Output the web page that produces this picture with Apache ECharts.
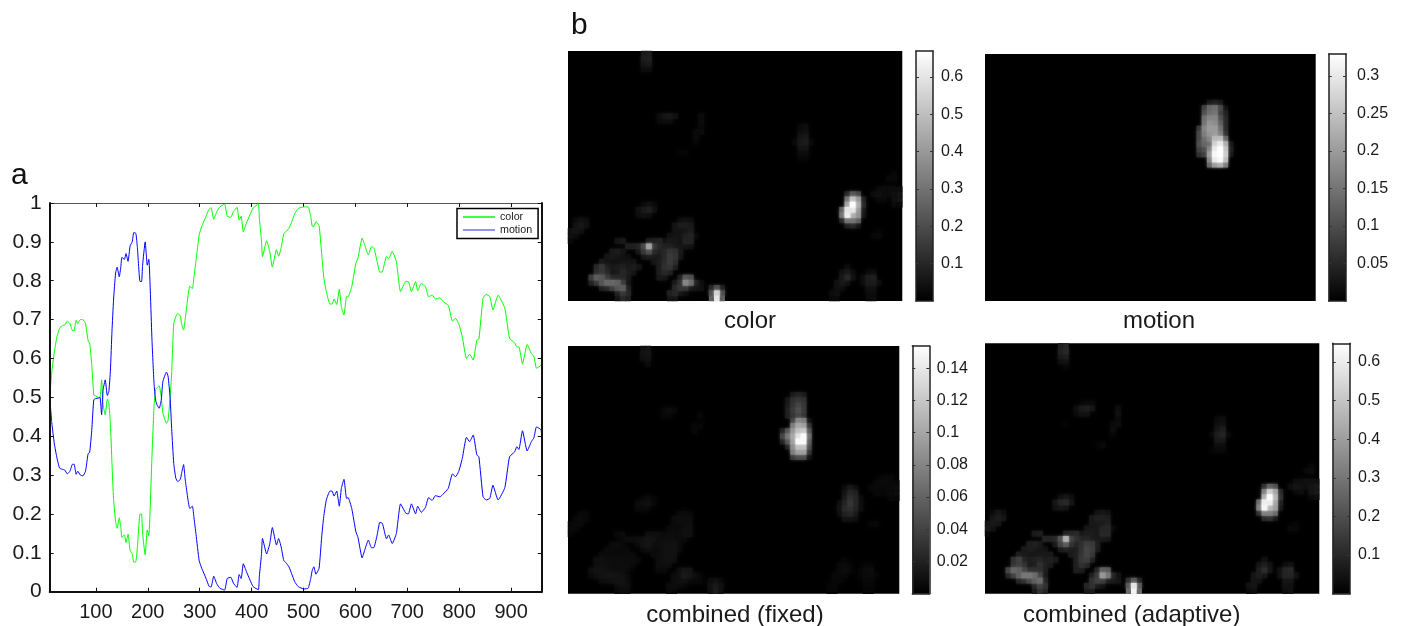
<!DOCTYPE html>
<html>
<head>
<meta charset="utf-8">
<style>html,body{margin:0;padding:0;background:#fff}#c{width:1402px;height:626px}</style>
<script src="https://cdn.jsdelivr.net/npm/echarts@6/dist/echarts.min.js"></script>
</head>
<body>
<div id="c"></div>
<script>
const xTicks = [100,200,300,400,500,600,700,800,900];

const colorTrace = [[11,.5],[15,.565],[20,.617],[25,.656],[30,.677],[35,.685],[40,.686],[45,.696],[50,.69],[55,.672],[58,.672],[62,.698],[65,.69],[70,.7],[75,.7],[80,.69],[85,.645],[88,.64],[92,.585],[96,.506],[100,.503],[105,.5],[108,.5],[111,.545],[114,.48],[118,.455],[122,.495],[125,.485],[128,.43],[131,.33],[134,.24],[138,.18],[141,.163],[145,.19],[148,.165],[150,.14],[155,.146],[158,.126],[162,.148],[166,.105],[170,.098],[173,.076],[177,.077],[180,.115],[185,.2],[188,.2],[190,.15],[195,.095],[199,.159],[202,.144],[208,.347],[212,.476],[215,.52],[218,.525],[222,.53],[226,.5],[229,.46],[236,.433],[239,.44],[243,.5],[246,.562],[250,.69],[254,.708],[258,.716],[263,.708],[265,.69],[269,.673],[272,.7],[281,.786],[286,.78],[289,.81],[293,.853],[299,.918],[304,.94],[312,.965],[318,.984],[322,.988],[327,.958],[333,.978],[339,.99],[348,.997],[353,.966],[360,.963],[365,.978],[372,.989],[376,.956],[380,.966],[384,.926],[390,.948],[397,.97],[403,.987],[413,.997],[415,.96],[419,.905],[421,.862],[429,.903],[435,.875],[440,.835],[448,.88],[452,.863],[457,.885],[462,.921],[466,.926],[472,.935],[477,.95],[483,.972],[490,.986],[501,.99],[509,.99],[514,.965],[517,.94],[520,.94],[524,.952],[530,.942],[535,.87],[539,.81],[544,.772],[551,.74],[555,.74],[559,.753],[564,.739],[569,.778],[573,.733],[578,.712],[583,.759],[586,.759],[593,.785],[601,.845],[605,.858],[613,.91],[618,.892],[625,.866],[631,.888],[636,.883],[642,.849],[647,.822],[652,.823],[660,.862],[664,.857],[671,.875],[679,.849],[687,.772],[697,.798],[702,.798],[708,.772],[716,.798],[720,.774],[727,.793],[735,.785],[741,.759],[748,.763],[754,.753],[763,.756],[769,.746],[779,.737],[787,.696],[793,.703],[799,.69],[806,.656],[814,.6],[820,.611],[827,.596],[834,.647],[838,.65],[846,.755],[852,.765],[859,.759],[865,.725],[875,.763],[888,.729],[897,.652],[907,.64],[911,.63],[915,.63],[922,.586],[931,.636],[939,.613],[944,.605],[949,.575],[958,.583],[959,.63]];

const motionTrace = [[11,.5],[15,.435],[20,.38],[25,.344],[30,.318],[35,.315],[40,.313],[45,.303],[50,.31],[55,.328],[58,.328],[62,.302],[65,.31],[70,.3],[75,.298],[80,.31],[85,.355],[88,.358],[92,.415],[96,.494],[100,.497],[105,.498],[108,.5],[111,.455],[114,.52],[118,.545],[122,.505],[125,.515],[128,.57],[131,.67],[134,.75],[138,.82],[141,.835],[145,.81],[148,.835],[150,.86],[155,.855],[158,.87],[162,.85],[166,.89],[170,.9],[173,.924],[177,.922],[180,.885],[185,.798],[188,.798],[190,.84],[195,.9],[199,.84],[202,.855],[208,.65],[212,.536],[215,.493],[218,.48],[222,.472],[226,.493],[229,.54],[236,.565],[239,.555],[243,.5],[246,.42],[250,.33],[254,.292],[258,.283],[263,.29],[265,.304],[269,.327],[272,.29],[281,.214],[286,.22],[289,.19],[293,.147],[299,.08],[304,.06],[312,.035],[318,.014],[322,.012],[327,.04],[333,.02],[339,.009],[348,.004],[353,.034],[360,.037],[365,.022],[372,.011],[376,.044],[380,.034],[384,.072],[390,.052],[397,.03],[403,.013],[413,.005],[415,.04],[419,.095],[421,.137],[429,.097],[435,.123],[440,.165],[448,.12],[452,.137],[457,.115],[462,.08],[466,.075],[472,.064],[477,.047],[483,.026],[490,.013],[501,.007],[509,.009],[514,.034],[517,.056],[520,.064],[524,.045],[530,.06],[535,.14],[539,.193],[544,.236],[551,.259],[555,.259],[559,.246],[564,.259],[569,.22],[573,.266],[578,.289],[583,.24],[586,.242],[593,.214],[601,.154],[605,.14],[613,.087],[618,.107],[625,.133],[631,.113],[636,.114],[642,.146],[647,.178],[652,.176],[660,.136],[664,.146],[671,.124],[679,.15],[687,.226],[697,.202],[702,.2],[708,.226],[716,.2],[720,.22],[727,.204],[735,.217],[741,.242],[748,.235],[754,.247],[763,.244],[769,.251],[779,.266],[787,.303],[793,.296],[799,.309],[806,.343],[814,.397],[820,.386],[827,.403],[834,.352],[838,.347],[846,.244],[852,.236],[859,.24],[865,.274],[875,.236],[888,.268],[897,.347],[907,.36],[911,.373],[915,.366],[922,.414],[931,.362],[939,.386],[944,.396],[949,.424],[958,.416],[959,.37]];

// Cell runs: [row, firstColumn, value, value, ...] on a 64x48 map
const colorCells = [
[0,14,.06,.07],[1,14,.07,.08],[2,14,.05,.06],[3,14,.03,.03],
[12,17,.03,.05,.06,.04],[13,17,.02,.03,.03],[12,25,.03],[13,25,.03],[14,25,.02],[15,24,.02,.025],[16,24,.025],[17,24,.015],[19,21,.01,.015],
[14,44,.02,.03],[15,44,.03,.04],[16,44,.05,.06],[17,43,.02,.06,.07,.02],[18,44,.05,.05],[19,44,.03,.03],[20,44,.015,.015],
[23,62,.015],[24,61,.02,.02],[26,59,.02,.03,.03,.03,.03],[27,53,.1,.22,.18],[27,58,.03,.04,.03,.02,.04,.05],[28,53,.3,.5,.4,.08],[28,59,.02,.02,.0,.04,.05],[29,53,.42,.66,.45,.1],[29,62,.02,.02],
[30,52,.25,.6,.6,.4,.06],[31,52,.3,.62,.45,.38,.05],[32,52,.1,.3,.3,.25],[33,53,.08,.1,.05],[34,59,.01],[35,58,.015,.02],
[32,1,.02,.04,.03],[33,1,.04,.06,.04],[34,0,.04,.05,.04],[35,0,.04,.03],[36,0,.02],
[29,14,.02,.04,.02],[30,13,.04,.06,.08,.04],[31,13,.03,.04,.03],
[32,21,.03,.04,.03],[33,20,.05,.07,.07,.06],[34,20,.05,.05,.05,.07],[35,19,.04,.05,.05,.08,.09,.02],[36,9,.05,.06],[36,15,.07,.08,.09,.04,.06,.06,.04,.09,.09],
[37,11,.08,.08,.09,.18,.42,.14,.1,.08,.08,.06,.05,.05,.04],
[38,8,.06,.07,.05],[38,13,.05,.14,.2,.1,.08,.1,.13,.12,.06],
[39,7,.05,.06,.05,.04,.03],[39,14,.05,.07,.06,.06,.1,.15,.13,.05],
[40,6,.06,.05,.04,.04,.05,.05,.05],[40,16,.05,.07,.11,.15,.11],
[41,5,.1,.14,.08,.06,.07,.08,.06,.07,.05],[41,17,.07,.12,.13,.07],
[42,5,.11,.14,.1,.05,.06,.1,.07,.05],[42,17,.07,.1,.08],
[43,4,.15,.24,.22,.15,.1,.1,.1,.06],[43,17,.06,.05],[43,21,.08,.22,.2],
[44,4,.08,.14,.22,.27,.27,.25,.15,.05],[44,20,.06,.12,.35,.28,.08,.03],
[45,6,.08,.1,.16,.22,.24,.08],[45,20,.1,.14,.13,.06,.05,.04],[45,27,.1,.2,.08],
[46,9,.08,.14,.1],[46,19,.08,.1,.05,.03],[46,27,.2,.55,.2],
[47,9,.05,.1,.08],[47,19,.05,.05],[47,27,.25,.6,.25],
[41,53,.03],[42,52,.04,.06,.03],[42,57,.02,.03],[43,52,.06,.1,.04],[43,56,.03,.07,.08],[44,51,.04,.06,.04],[44,56,.03,.07,.07,.03],[45,51,.04,.03],[45,57,.04,.04],[46,50,.03,.04],[46,57,.03,.03],[47,50,.02,.02],[47,57,.02,.03]
];

const motionCells = [
[9,43,.03,.04,.03],[10,42,.08,.13,.14,.09,.02],[11,42,.1,.14,.15,.08,.04],[12,42,.14,.17,.17,.1,.05],[13,42,.15,.19,.18,.12,.05],
[14,41,.07,.17,.2,.2,.14,.05],[15,41,.09,.16,.19,.2,.16,.06],[16,41,.09,.14,.17,.24,.24,.13],[17,41,.1,.13,.14,.27,.3,.22,.03],
[18,41,.08,.1,.17,.3,.33,.25,.04],[19,41,.06,.08,.2,.32,.33,.26,.03],[20,43,.17,.3,.32,.24],[21,43,.13,.2,.22,.16]
];

const fixedCells = [
[0,14,.009,.011],[1,14,.01,.012],[2,14,.007,.009],[3,15,.006],
[12,18,.004,.007,.005],[13,18,.004,.004],[13,25,.004],[15,24,.004,.004],[16,24,.004],
[9,43,.015,.02,.015],[10,42,.012,.028,.032,.028],[11,42,.015,.03,.04,.032],[12,42,.018,.034,.046,.034],[13,42,.018,.03,.04,.03],
[14,43,.04,.08,.075,.01],[15,43,.075,.1,.095,.03],[16,41,.02,.05,.09,.115,.12,.05],[17,41,.04,.07,.1,.135,.15,.065],[18,41,.02,.05,.095,.15,.15,.055],[19,42,.02,.085,.115,.115,.045],[20,43,.075,.095,.095,.03],[21,43,.035,.045,.045,.01],
[27,53,.006,.014,.008],[28,53,.01,.022,.018],[29,53,.015,.028,.022,.006],[30,52,.008,.02,.032,.022,.007],[31,52,.01,.024,.028,.02,.007],[32,52,.007,.018,.022,.014],[33,53,.01,.01,.007],
[25,60,.003,.004,.004],[26,59,.004,.006,.006,.005,.005],[27,58,.004,.005,.004,.004,.006,.007],[28,59,.004,.004,.004,.006,.007],[29,62,.004,.004],[34,58,.003,.004],
[32,2,.004,.004],[33,1,.004,.006,.004],[34,0,.004,.006,.004],[35,0,.005,.004],[36,0,.003],
[29,14,.003,.006,.003],[30,13,.006,.008,.009,.004],[31,13,.004,.005,.004],
[32,21,.005,.006,.004],[33,20,.006,.008,.008,.007],[34,20,.006,.006,.006,.008],[35,19,.005,.006,.006,.008,.009],[36,9,.005,.006],[36,15,.007,.008,.008,.005,.007,.007,.005,.009,.009],
[37,10,.005,.007,.007,.008,.009,.012,.011,.008,.008,.008,.007,.006,.005],
[38,8,.005,.007,.005],[38,13,.005,.01,.012,.008,.008,.009,.01,.01,.006],
[39,7,.005,.006,.005,.005,.004],[39,14,.005,.007,.006,.006,.009,.01,.01,.005],
[40,6,.006,.006,.005,.005,.006,.006,.006],[40,16,.005,.007,.009,.01,.009],
[41,5,.007,.009,.007,.007,.007,.007,.007,.007,.005],[41,17,.007,.009,.01,.007],
[42,5,.008,.009,.008,.006,.007,.008,.007,.005],[42,17,.007,.008,.007],
[43,4,.008,.011,.011,.009,.008,.008,.008,.005],[43,17,.005,.005],[43,21,.007,.012,.011],
[44,4,.005,.008,.011,.012,.012,.011,.009,.005],[44,20,.006,.009,.015,.012,.007,.004],
[45,6,.006,.007,.009,.011,.011,.006],[45,20,.007,.009,.009,.005,.005,.004],[45,27,.006,.009,.005],
[46,9,.006,.009,.007],[46,19,.006,.007,.005,.003],[46,27,.009,.015,.009],
[47,9,.005,.007,.006],[47,19,.005,.004],[47,27,.009,.016,.009],
[41,53,.003],[42,52,.005,.006,.003],[42,57,.003,.003],[43,52,.005,.007,.004],[43,56,.003,.006,.007],[44,51,.005,.005,.004],[44,56,.003,.006,.006,.003],[45,51,.004,.003],[45,57,.004,.004],[46,50,.003,.004],[46,57,.003,.003],[47,50,.003,.003],[47,57,.003,.003]
];

const adaptiveCells = [
[0,14,.07,.09],[1,14,.08,.1],[2,14,.06,.07],[3,14,.03,.04],[4,15,.015],
[11,18,.01,.02,.02],[12,17,.03,.06,.07,.05],[13,17,.02,.04,.04],[12,25,.03],[13,25,.04],[14,25,.02],[15,24,.02,.03],[16,24,.03],[17,24,.015],[19,21,.01,.02],[15,15,.01],
[14,44,.02,.03],[15,44,.03,.04],[16,44,.05,.07],[17,43,.02,.07,.09,.02],[18,44,.06,.06],[19,44,.03,.03],[20,43,.01,.02,.02],
[23,62,.015],[24,61,.02,.03],[26,59,.03,.03,.04,.04,.04],[27,53,.12,.24,.2],[27,58,.03,.05,.04,.03,.05,.06],[28,53,.32,.52,.42,.1],[28,59,.02,.03,.0,.05,.06],[29,53,.44,.64,.46,.12],[29,62,.02,.03],
[30,52,.27,.6,.6,.42,.08],[31,52,.32,.62,.46,.4,.06],[32,52,.12,.32,.32,.27],[33,53,.1,.12,.06],[34,59,.01],[35,58,.02,.02],
[32,1,.02,.05,.03],[33,1,.05,.07,.05],[34,0,.05,.06,.05],[35,0,.06,.04],[36,0,.02],
[29,14,.03,.05,.03],[30,13,.05,.09,.1,.05],[31,13,.04,.05,.04],
[32,21,.04,.05,.04],[33,20,.06,.08,.08,.07],[34,20,.06,.06,.06,.08],[35,19,.05,.06,.06,.09,.1,.02],[36,9,.06,.07],[36,15,.08,.09,.1,.05,.07,.07,.05,.1,.1],
[37,11,.09,.09,.1,.2,.44,.16,.12,.09,.09,.07,.06,.06,.05],
[38,8,.07,.08,.06],[38,13,.06,.16,.22,.12,.09,.12,.15,.14,.07],
[39,7,.06,.07,.06,.05,.04],[39,14,.06,.08,.07,.07,.12,.17,.15,.06],
[40,6,.07,.06,.05,.05,.06,.06,.06],[40,16,.06,.08,.13,.17,.13],
[41,5,.12,.16,.09,.07,.08,.09,.07,.08,.06],[41,17,.08,.14,.15,.08],
[42,5,.13,.16,.12,.06,.07,.12,.08,.06],[42,17,.08,.12,.09],
[43,4,.17,.26,.24,.17,.12,.12,.12,.07],[43,17,.07,.06],[43,21,.09,.24,.22],
[44,4,.09,.16,.24,.3,.3,.27,.17,.06],[44,20,.07,.14,.38,.3,.09,.04],
[45,6,.09,.12,.18,.24,.27,.09],[45,20,.12,.16,.15,.07,.06,.05],[45,27,.12,.22,.09],
[46,9,.09,.16,.12],[46,19,.09,.12,.06,.04],[46,27,.22,.58,.22],
[47,9,.06,.12,.09],[47,19,.06,.06],[47,27,.27,.62,.27],
[41,53,.04],[42,52,.05,.07,.04],[42,57,.03,.04],[43,52,.07,.11,.05],[43,56,.04,.09,.1],[44,51,.05,.07,.05],[44,56,.04,.09,.09,.04],[45,51,.05,.04],[45,57,.05,.05],[46,50,.04,.05],[46,57,.04,.04],[47,50,.02,.03],[47,57,.03,.04]
];

const panelNames = ['color','motion','combined (fixed)','combined (adaptive)'];
const panelMax = [0.669, 0.329, 0.1538, 0.648];
const colorbarLabels = [
  [0.1,0.2,0.3,0.4,0.5,0.6],
  [0.05,0.1,0.15,0.2,0.25,0.3],
  [0.02,0.04,0.06,0.08,0.1,0.12,0.14],
  [0.1,0.2,0.3,0.4,0.5,0.6]
];
const panelCells = [colorCells, motionCells, fixedCells, adaptiveCells];

// layout: image box, colorbar box, title position, label margin
const layout = [
  {l:568,t:51,r:902.3,b:301,bl:916,br:933,tx:750,ty:322,m:8},
  {l:985,t:54,r:1315.7,b:301,bl:1328.7,br:1346,tx:1159,ty:322,m:11},
  {l:568,t:346,r:899.3,b:593.7,bl:912.3,br:929.3,tx:735,ty:616,m:7.5},
  {l:985,t:343.3,r:1319.3,b:593.7,bl:1332.7,br:1350,tx:1131.7,ty:616,m:8}
];

function expand(runs,max){
  const out=[];
  runs.forEach(r=>{for(let i=2;i<r.length;i++) out.push([r[1]+i-2,r[0],r[i]]);});
  out.sort((a,b)=>a[2]-b[2]);
  return out.map(c=>{
    const g=Math.round(255*c[2]/max);
    const edge=c[0]===0||c[0]===63||c[1]===0||c[1]===47;
    return {value:c,itemStyle:edge?{}:{shadowBlur:3,shadowColor:'rgb('+g+','+g+','+g+')'}};
  });
}
const cols=[...Array(64).keys()], rows=[...Array(48).keys()];
const W=1402,H=626,FONT='"Liberation Sans",Arial,sans-serif';

const grid=[{left:49.7,top:203,width:492,height:388.7,show:false}];
const xAxis=[
 {gridIndex:0,type:'value',min:11,max:959,position:'bottom',splitLine:{show:false},z:5,
  axisLine:{onZero:false,lineStyle:{color:'#111',width:2}},
  axisTick:{inside:true,length:4,customValues:xTicks,lineStyle:{color:'#111',width:1}},
  axisLabel:{customValues:xTicks,fontFamily:FONT,fontSize:20,color:'#1a1a1a',margin:11}},
 {gridIndex:0,type:'value',min:11,max:959,position:'top',splitLine:{show:false},
  axisLine:{onZero:false,lineStyle:{color:'#555',width:1}},
  axisTick:{inside:true,length:4,customValues:xTicks,lineStyle:{color:'#111',width:1}},axisLabel:{show:false}}
];
const yAxis=[
 {gridIndex:0,type:'value',min:0,max:1,interval:0.1,position:'left',splitLine:{show:false},z:5,
  axisLine:{show:true,onZero:false,lineStyle:{color:'#111',width:2}},
  axisTick:{show:true,inside:true,length:4,lineStyle:{color:'#111',width:1}},
  axisLabel:{fontFamily:FONT,fontSize:21,color:'#1a1a1a',margin:8}},
 {gridIndex:0,type:'value',min:0,max:1,interval:0.1,position:'right',splitLine:{show:false},z:5,
  axisLine:{show:true,onZero:false,lineStyle:{color:'#111',width:2}},
  axisTick:{show:true,inside:true,length:4,lineStyle:{color:'#111',width:1}},axisLabel:{show:false}}
];
const series=[
 {name:'color',type:'line',xAxisIndex:0,yAxisIndex:0,data:colorTrace,showSymbol:false,symbol:'none',smooth:0.15,animation:false,lineStyle:{color:'#00ff00',width:1},itemStyle:{color:'#00ff00'}},
 {name:'motion',type:'line',xAxisIndex:0,yAxisIndex:0,data:motionTrace,showSymbol:false,symbol:'none',smooth:0.15,animation:false,lineStyle:{color:'#0000ff',width:1},itemStyle:{color:'#0000ff'}}
];
const visualMap=[];
const title=[
 {text:'a',left:11,top:161,textStyle:{fontFamily:FONT,fontSize:30,fontWeight:'normal',color:'#111'},padding:0},
 {text:'b',left:571,top:11,textStyle:{fontFamily:FONT,fontSize:30,fontWeight:'normal',color:'#111'},padding:0}
];

layout.forEach((p,i)=>{
  const gi=grid.length;
  grid.push({left:p.l,top:p.t,width:p.r-p.l,height:p.b-p.t,show:true,backgroundColor:'#000',borderWidth:0});
  grid.push({left:p.bl,top:p.t,width:p.br-p.bl,height:p.b-p.t,show:false});
  const xh=xAxis.length, yh=yAxis.length;
  xAxis.push({gridIndex:gi,type:'category',data:cols,show:false});
  yAxis.push({gridIndex:gi,type:'category',data:rows,inverse:true,show:false});
  xAxis.push({gridIndex:gi+1,type:'category',data:[panelNames[i]],show:true,position:'bottom',z:5,
    axisLine:{onZero:false,lineStyle:{color:'#222',width:1.5}},axisTick:{show:false},axisLabel:{show:false}});
  xAxis.push({gridIndex:gi+1,type:'category',data:[panelNames[i]],show:true,position:'top',z:5,
    axisLine:{onZero:false,lineStyle:{color:'#222',width:1.5}},axisTick:{show:false},axisLabel:{show:false}});
  const tickVals=colorbarLabels[i];
  yAxis.push({gridIndex:gi+1,type:'value',min:0,max:panelMax[i],position:'right',splitLine:{show:false},z:5,
    axisLine:{show:true,onZero:false,lineStyle:{color:'#222',width:1.5}},
    axisTick:{show:true,inside:true,length:3,customValues:tickVals,lineStyle:{color:'#333',width:1}},
    axisLabel:{customValues:tickVals,fontFamily:FONT,fontSize:16,color:'#1a1a1a',margin:p.m,formatter:v=>String(+v.toFixed(3))}});
  yAxis.push({gridIndex:gi+1,type:'value',min:0,max:panelMax[i],position:'left',splitLine:{show:false},z:5,
    axisLine:{show:true,onZero:false,lineStyle:{color:'#222',width:1.5}},
    axisTick:{show:true,inside:true,length:3,customValues:tickVals,lineStyle:{color:'#333',width:1}},axisLabel:{show:false}});
  const si=series.length;
  series.push({type:'heatmap',xAxisIndex:xh,yAxisIndex:yh,data:expand(panelCells[i],panelMax[i]),silent:true,animation:false,progressive:0,emphasis:{disabled:true},clip:true});
  visualMap.push({show:false,type:'continuous',seriesIndex:si,min:0,max:panelMax[i],dimension:2,inRange:{color:['#000000','#ffffff']}});
  series.push({type:'bar',xAxisIndex:xh+1,yAxisIndex:yh+1,data:[panelMax[i]],barWidth:'100%',silent:true,animation:false,z:1,
    itemStyle:{color:new echarts.graphic.LinearGradient(0,0,0,1,[{offset:0,color:'#ffffff'},{offset:1,color:'#000000'}])}});
  title.push({text:panelNames[i],left:p.tx,top:p.ty-13,textAlign:'center',padding:0,
    textStyle:{fontFamily:FONT,fontSize:24,fontWeight:'normal',color:'#1a1a1a'}});
});

const chart=echarts.init(document.getElementById('c'),null,{renderer:'canvas',width:W,height:H});
chart.setOption({
  animation:false,backgroundColor:'#fff',title,grid,xAxis,yAxis,series,visualMap,
  legend:{data:[{name:'color'},{name:'motion',itemStyle:{color:'#6f6ff5'}}],seriesIndex:[0,1],left:457,top:208.5,orient:'vertical',icon:'rect',itemWidth:32,itemHeight:1.5,itemGap:2,
    padding:[3,6,3,6],backgroundColor:'#fff',borderColor:'#000',borderWidth:1.5,selectedMode:false,z:10,
    textStyle:{fontFamily:FONT,fontSize:10.7,color:'#1a1a1a'}}
});
</script>
</body>
</html>
